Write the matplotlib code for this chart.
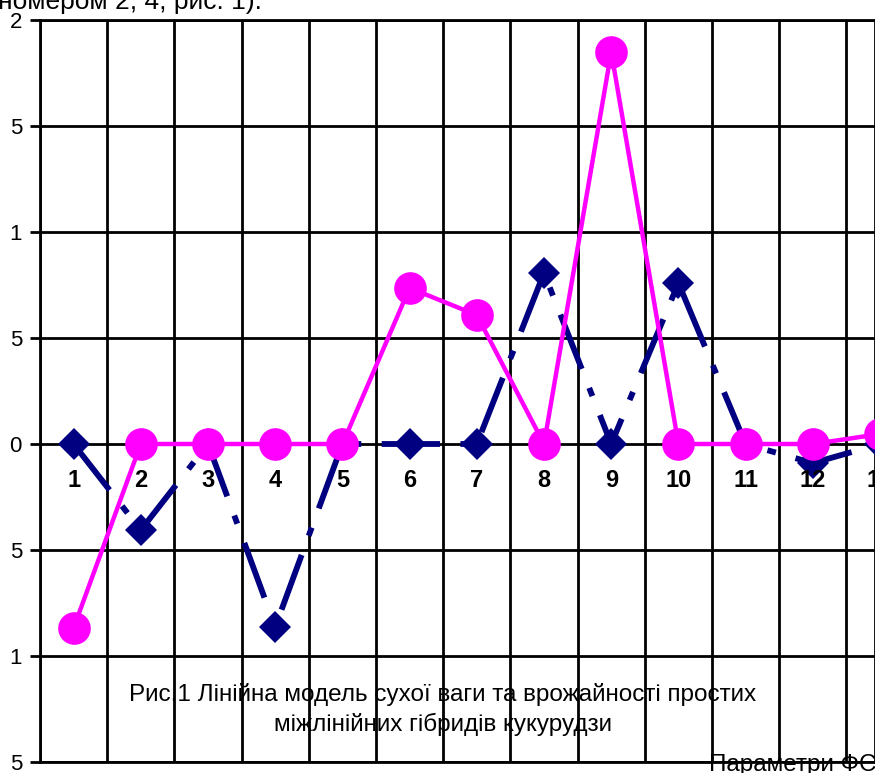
import numpy as np
import matplotlib.pyplot as plt

plt.rcParams.update({
    "font.family": ["Liberation Sans", "DejaVu Sans"],
    "font.size": 16,
})

# categories and series
categories = [1, 2, 3, 4, 5, 6, 7, 8, 9, 10, 11, 12, 13]
series_navy = [0, -0.0406, 0, -0.0863, 0, 0, 0, 0.0807, 0, 0.0759, 0, -0.009, 0]
series_pink = [-0.0868, 0, 0, 0, 0, 0.0736, 0.0608, 0, 0.1849, 0, 0, 0, 0.0047]
ytick_vals = [-0.15, -0.1, -0.05, 0, 0.05, 0.1, 0.15, 0.2]
ytick_labels = ["5", "1", "5", "0", "5", "1", "5", "2"]

W, H = 875, 773
fig = plt.figure(figsize=(W / 100, H / 100), dpi=100)
ax = fig.add_axes([40 / W, 11 / H, (W - 40) / W, 742 / H])

x = np.array(categories)
ax.plot(x, series_navy, color="#000080", lw=4.2, dashes=(10, 3.5, 1.5, 3.5),
        marker="D", ms=16.5, mew=0, zorder=3)
ax.plot(x, series_pink, color="#FF00FF", lw=3.2, marker="o", ms=23.5, mew=0,
        zorder=4)

for c in categories:
    ax.text(c, -0.017, str(c), ha="center", va="center", fontsize=17,
            fontweight="bold", zorder=6)

ax.set_xlim(0.5, 12.925)
ax.set_ylim(-0.15, 0.2)
ax.set_xticks(np.arange(0.5, 13.5, 1.0))
ax.set_xticklabels([])
ax.tick_params(axis="x", length=0)
ax.set_yticks(ytick_vals)
ax.set_yticklabels(ytick_labels)
ax.tick_params(axis="y", length=7, width=2, pad=6, labelsize=16)
ax.grid(True, color="black", lw=2)
ax.set_axisbelow(True)
for s in ax.spines.values():
    s.set_linewidth(2)
    s.set_color("black")

fig.text(-2 / W, 1 - 9 / H, "номером 2, 4, рис. 1).", fontsize=19,
         ha="left", va="baseline")
fig.text(443 / W, 1 - 701 / H,
         "Рис.1 Лінійна модель сухої ваги та врожайності простих",
         fontsize=17.5, ha="center", va="baseline")
fig.text(443 / W, 1 - 731 / H, "міжлінійних гібридів кукурудзи",
         fontsize=17.5, ha="center", va="baseline")
fig.text(709 / W, 1 - 773 / H + 0.002, "Параметри ФС", fontsize=17.5,
         ha="left", va="baseline")

fig.savefig("out.png", dpi=100)
